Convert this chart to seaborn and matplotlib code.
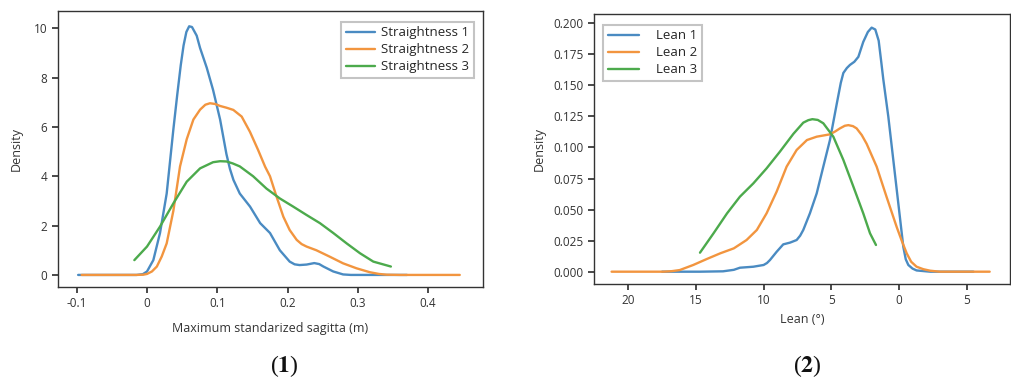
import numpy as np
import pandas as pd
import matplotlib
matplotlib.use("Agg")
import matplotlib.pyplot as plt
import matplotlib.ticker as ticker
import seaborn as sns

# --- curves (x, density) ---
s1_x = [-0.098, -0.015, -0.006, 0.0, 0.009, 0.0185, 0.028, 0.0375, 0.043, 0.048, 0.052,
        0.056, 0.060, 0.064, 0.0707, 0.0755, 0.085, 0.094, 0.104, 0.113, 0.118, 0.123,
        0.132, 0.1466, 0.161, 0.175, 0.189, 0.203, 0.210, 0.217, 0.227, 0.238, 0.245,
        0.251, 0.265, 0.279, 0.29, 0.37]
s1_y = [0.0, 0.0, 0.03, 0.14, 0.6, 1.7, 3.3, 5.9, 7.3, 8.5, 9.3,
        9.85, 10.08, 10.05, 9.7, 9.2, 8.4, 7.5, 6.3, 4.9, 4.3, 3.85,
        3.3, 2.77, 2.1, 1.7, 1.0, 0.54, 0.43, 0.4, 0.42, 0.48, 0.44,
        0.34, 0.14, 0.02, 0.0, 0.0]

s2_x = [-0.093, -0.015, -0.005, 0.0, 0.007, 0.014, 0.021, 0.028, 0.0375, 0.047, 0.0565,
        0.066, 0.0755, 0.083, 0.0896, 0.097, 0.104, 0.113, 0.1228, 0.1347, 0.1465, 0.158,
        0.168, 0.175, 0.184, 0.194, 0.203, 0.213, 0.22, 0.227, 0.241, 0.260, 0.279,
        0.298, 0.317, 0.33, 0.341, 0.36, 0.445]
s2_y = [0.0, 0.0, 0.01, 0.04, 0.14, 0.34, 0.75, 1.28, 2.6, 4.4, 5.5,
        6.3, 6.7, 6.9, 6.96, 6.93, 6.85, 6.78, 6.69, 6.42, 5.8, 5.07,
        4.39, 4.0, 3.2, 2.36, 1.82, 1.42, 1.25, 1.15, 1.0, 0.74, 0.47,
        0.27, 0.11, 0.04, 0.01, 0.0, 0.0]

s3_x = [-0.018, 0.0, 0.0185, 0.0375, 0.0565, 0.0755, 0.094, 0.104, 0.113, 0.122, 0.132,
        0.151, 0.170, 0.189, 0.208, 0.227, 0.246, 0.265, 0.284, 0.303, 0.322, 0.347]
s3_y = [0.6, 1.15, 1.96, 2.9, 3.78, 4.32, 4.57, 4.61, 4.6, 4.52, 4.4,
        4.0, 3.5, 3.1, 2.77, 2.43, 2.1, 1.7, 1.28, 0.88, 0.54, 0.34]

l1_x = [-17.5, -14.7, -13.0, -12.2, -11.75, -10.76, -10.0, -9.75, -9.53, -9.04, -8.55,
        -8.05, -7.56, -7.3, -7.07, -6.58, -6.08, -5.59, -5.1, -4.6, -4.3, -4.11,
        -3.85, -3.62, -3.3, -3.0, -2.64, -2.3, -2.02, -1.75, -1.5, -1.3, -1.16,
        -0.79, -0.42, -0.05, 0.32, 0.5, 0.69, 1.0, 1.3, 2.3, 5.5]
l1_y = [0.0, 0.0, 0.0003, 0.0015, 0.0032, 0.004, 0.0054, 0.007, 0.0094, 0.016, 0.022,
        0.0234, 0.0255, 0.029, 0.0336, 0.047, 0.063, 0.0846, 0.106, 0.135, 0.152, 0.16,
        0.164, 0.1665, 0.169, 0.173, 0.185, 0.193, 0.1965, 0.195, 0.186, 0.168, 0.155,
        0.125, 0.09, 0.055, 0.02, 0.01, 0.0054, 0.0025, 0.001, 0.0, 0.0]

l2_x = [-21.23, -17.4, -16.8, -16.2, -15.2, -14.2, -13.2, -12.2, -11.26, -10.5, -9.78,
        -9.04, -8.3, -7.56, -6.8, -6.08, -5.1, -4.7, -4.36, -4.0, -3.74, -3.4,
        -3.13, -2.75, -2.39, -1.65, -0.91, -0.17, 0.2, 0.57, 0.9, 1.3, 1.8,
        2.3, 3.0, 6.7]
l2_y = [0.0, 0.0, 0.0004, 0.0013, 0.0054, 0.0102, 0.0148, 0.0188, 0.0255, 0.0336, 0.047,
        0.0644, 0.0846, 0.098, 0.106, 0.1087, 0.1106, 0.113, 0.1154, 0.1175, 0.118, 0.1172,
        0.1154, 0.11, 0.103, 0.0846, 0.060, 0.036, 0.025, 0.0148, 0.008, 0.004, 0.002,
        0.0008, 0.0, 0.0]

l3_x = [-14.7, -13.7, -12.7, -11.75, -10.76, -9.78, -8.8, -7.8, -7.07, -6.7, -6.4,
        -6.0, -5.59, -4.85, -4.11, -3.37, -2.64, -2.14, -1.7]
l3_y = [0.0153, 0.0309, 0.047, 0.0604, 0.0711, 0.0832, 0.0966, 0.111, 0.120, 0.122, 0.1228,
        0.1222, 0.1195, 0.1087, 0.090, 0.0685, 0.047, 0.0309, 0.0215]

left_names = ["Straightness 1", "Straightness 2", "Straightness 3"]
right_names = ["Lean 1", "Lean 2", "Lean 3"]


def long_df(names, xs, ys):
    parts = [pd.DataFrame({"x": x, "y": y, "series": n}) for n, x, y in zip(names, xs, ys)]
    return pd.concat(parts, ignore_index=True)


df_left = long_df(left_names, [s1_x, s2_x, s3_x], [s1_y, s2_y, s3_y])
df_right = long_df(right_names, [l1_x, l2_x, l3_x], [l1_y, l2_y, l3_y])

sns.set_theme(style="ticks")
plt.rcParams.update({
    "font.family": ["Open Sans", "DejaVu Sans"],
    "axes.edgecolor": "#333333",
    "axes.linewidth": 1.0,
    "xtick.color": "#333333",
    "ytick.color": "#333333",
    "xtick.labelcolor": "#333333",
    "ytick.labelcolor": "#333333",
    "xtick.major.size": 4,
    "ytick.major.size": 4,
    "xtick.labelsize": 8.5,
    "ytick.labelsize": 8.5,
    "axes.labelsize": 9,
    "axes.labelcolor": "#333333",
    "lines.solid_joinstyle": "round",
    "mathtext.fontset": "stix",
})

colors = ["#4a8bc2", "#f2953f", "#4caa4c"]

fig = plt.figure(figsize=(10.11, 3.79), dpi=100)
ax1 = fig.add_axes([0.0574, 0.2427, 0.4203, 0.7283])
ax2 = fig.add_axes([0.5878, 0.2507, 0.4112, 0.7124])

sns.lineplot(data=df_left, x="x", y="y", hue="series", palette=colors, estimator=None,
             sort=False, linewidth=1.7, ax=ax1)
sns.lineplot(data=df_right, x="x", y="y", hue="series", palette=colors, estimator=None,
             sort=False, linewidth=1.7, ax=ax2)

ax1.set_xlim(-0.1266, 0.478)
ax1.set_ylim(-0.49, 10.70)
ax1.set_xticks([-0.1, 0, 0.1, 0.2, 0.3, 0.4])
ax1.set_yticks([0, 2, 4, 6, 8, 10])
ax1.xaxis.set_major_formatter(ticker.FuncFormatter(lambda v, p: "0" if abs(v) < 1e-9 else f"{v:g}"))
ax1.set_xlabel("Maximum standarized sagitta (m)", labelpad=8)
ax1.set_ylabel("Density", labelpad=8)

ax2.set_xlim(-22.51, 8.2)
ax2.set_ylim(-0.0099, 0.2075)
ax2.set_xticks([-20, -15, -10, -5, 0, 5])
ax2.set_yticks([0, 0.025, 0.05, 0.075, 0.1, 0.125, 0.15, 0.175, 0.2])
ax2.xaxis.set_major_formatter(ticker.FuncFormatter(lambda v, p: f"{abs(v):g}"))
ax2.yaxis.set_major_formatter(ticker.FormatStrFormatter("%.3f"))
ax2.set_xlabel("Lean (°)", labelpad=4)
ax2.set_ylabel("Density", labelpad=6)

for ax in (ax1, ax2):
    for side in ax.spines.values():
        side.set_visible(True)

leg1 = ax1.legend(loc="upper right", bbox_to_anchor=(0.995, 0.985), fontsize=9.5,
                  handlelength=2.2, handletextpad=0.5, borderpad=0.35, labelspacing=0.3,
                  fancybox=False, framealpha=1)
leg1.get_frame().set_edgecolor("#c4c4c4")
leg1.get_frame().set_linewidth(1.5)

leg2 = ax2.legend(loc="upper left", bbox_to_anchor=(0.005, 0.985), fontsize=9.5,
                  handlelength=2.4, handletextpad=1.3, borderpad=0.35, labelspacing=0.3,
                  fancybox=False, framealpha=1)
leg2.get_frame().set_edgecolor("#c4c4c4")
leg2.get_frame().set_linewidth(1.5)

fig.text(284 / 1011, 1 - 366 / 379, r"($\mathbf{1}$)", ha="center", va="center",
         fontsize=17, family="Liberation Serif", color="#111111")
fig.text(807 / 1011, 1 - 366 / 379, r"($\mathbf{2}$)", ha="center", va="center",
         fontsize=17, family="Liberation Serif", color="#111111")

fig.savefig("out.png", dpi=100)
